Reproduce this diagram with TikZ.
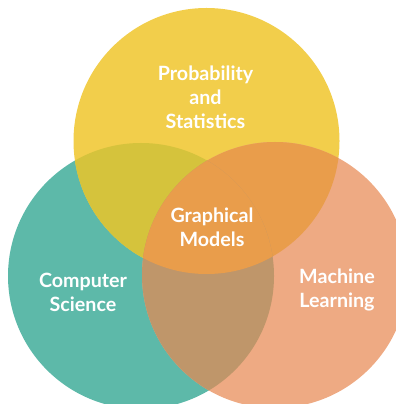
\documentclass[tikz,border=0pt]{standalone}
\usepackage{fontspec}
\setmainfont{Lato}
\definecolor{stat}{HTML}{F2CE4B}
\definecolor{cs}{HTML}{5DB9A9}
\definecolor{ml}{HTML}{EEAA83}
\definecolor{statcs}{HTML}{D5C33C}
\definecolor{statml}{HTML}{E99D4B}
\definecolor{csml}{HTML}{BF966A}
\begin{document}
\begin{tikzpicture}[x=0.25mm, y=-0.25mm,
		lbl/.style={text=white, align=center, font=\fontsize{14}{17.2}\selectfont\bfseries}]
	\useasboundingbox (0,0) rectangle (395,404);
	% środki trzech kół o promieniu 133
	\coordinate (pst) at (206.5,141);
	\coordinate (csc) at (141,276);
	\coordinate (mlc) at (275,275);
	\fill[cs] (csc) circle (133);
	\fill[stat] (pst) circle (133);
	\fill[ml] (mlc) circle (133);
	% części wspólne par kół
	\begin{scope}
		\clip (pst) circle (133);
		\fill[statcs] (csc) circle (133);
		\fill[statml] (mlc) circle (133);
	\end{scope}
	\begin{scope}
		\clip (csc) circle (133);
		\fill[csml] (mlc) circle (133);
		\clip (mlc) circle (133);
		\fill[statml] (pst) circle (133);
	\end{scope}
	% podpisy
	\node[lbl] (prob) at (205.5,97) {Probability\\and\\Statistics};
	\node[lbl] (gm) at (212,227) {Graphical\\Models};
	\node[lbl] (comp) at (83,292) {Computer\\Science};
	\node[lbl] (mach) at (337,290) {Machine\\Learning};
\end{tikzpicture}
\end{document}
